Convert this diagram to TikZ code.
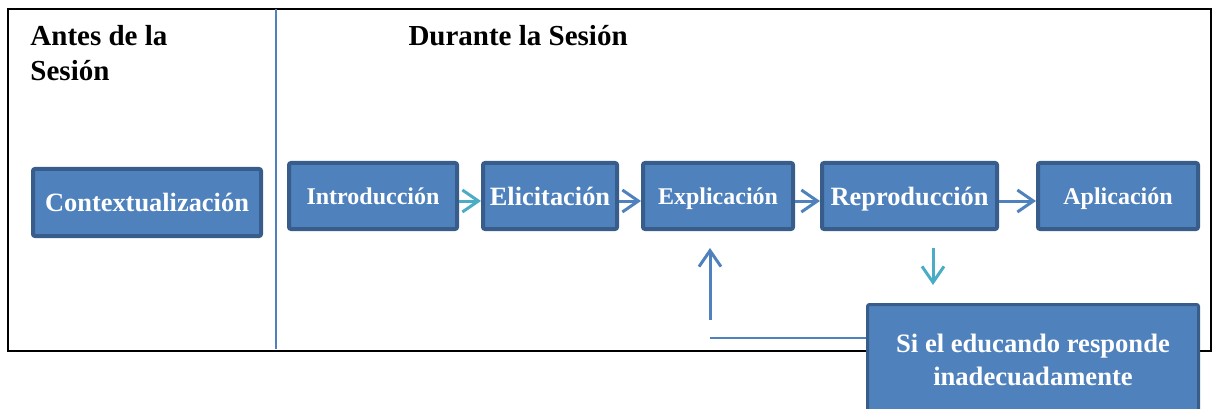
\documentclass[tikz,border=0pt]{standalone}
\usepackage{fontspec}
\setmainfont{Liberation Serif}
\usetikzlibrary{arrows.meta,positioning}
\definecolor{box_blue}{RGB}{79,129,189}
\definecolor{box_edge}{RGB}{56,93,138}
\definecolor{arrow_cyan}{RGB}{75,172,198}

\begin{document}
\begin{tikzpicture}[x=1pt,y=-1pt,>={Straight Barb[length=16pt,width=22pt]},line width=3pt]
    \tikzstyle{stage}=[draw=box_edge, line width=4pt, fill=box_blue, rounded corners=2pt, minimum height=66pt, inner sep=0pt, text=white, text height=17pt, text depth=0pt, font=\bfseries\fontsize{24}{28}\selectfont]
    \tikzstyle{big}=[text height=18.5pt, font=\bfseries\fontsize{26.4}{30}\selectfont]
    \tikzstyle{head}=[inner sep=0pt, text=black, font=\bfseries\fontsize{29}{35}\selectfont]

    \useasboundingbox (0,0) rectangle (1213,409);
    \draw[line width=2pt] (8,9) rectangle (1211,351);
    \draw[box_blue,line width=2pt] (276,9) -- (276,349);

    \node[head, anchor=north west, align=left] (antes) at (29,24) {Antes de la\\Sesión};
    \node[head, anchor=base west] (durante) at (407,46) {Durante la Sesión};

    \node[stage, big, minimum width=228pt, minimum height=67pt] (ctx) at (147,202.5) {Contextualización};
    \node[stage, minimum width=168pt] (intro) at (373,196) {Introducción};
    \node[stage, big, minimum width=134pt] (elic) at (550,196) {Elicitación};
    \node[stage, minimum width=150pt] (expl) at (718,196) {Explicación};
    \node[stage, big, minimum width=175pt] (repro) at (909.5,196) {Reproducción};
    \node[stage, minimum width=160pt] (apl) at (1118,196) {Aplicación};
    \node[stage, line width=3pt, minimum width=331pt, minimum height=111pt, align=center,
          text height=, text depth=, font=\bfseries\fontsize{26.6}{33}\selectfont] (si) at (1033,360) {Si el educando responde\\inadecuadamente};

    \coordinate (upS) at (710,320);
    \coordinate (upE) at (710,248);
    \coordinate (dnS) at (933,248);
    \coordinate (dnE) at (933,285);
    \coordinate (back) at (710,338);

    \path[->]
     ([yshift=-5pt]intro.east) edge[arrow_cyan] ([yshift=-5pt]elic.west)
     ([yshift=-5pt]elic.east) edge[box_blue] ([yshift=-5pt]expl.west)
     ([yshift=-5pt]expl.east) edge[box_blue] ([yshift=-5pt]repro.west)
     ([yshift=-5pt]repro.east) edge[box_blue] ([yshift=-5pt]apl.west)
     (upS) edge[box_blue] (upE)
     (dnS) edge[arrow_cyan] (dnE)
     ;
    \draw[box_blue,line width=2pt] (back) -- (back -| si.west);
  \end{tikzpicture}
\end{document}
